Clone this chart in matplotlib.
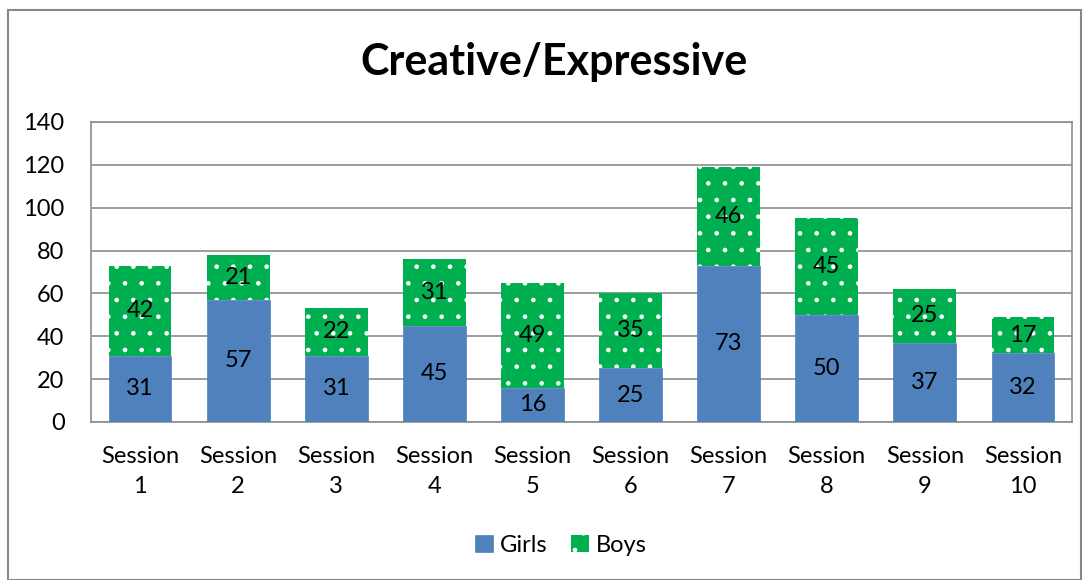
import matplotlib.pyplot as plt
import numpy as np
from matplotlib.patches import Rectangle

plt.rcParams['font.family'] = ['Lato', 'DejaVu Sans']
plt.rcParams['hatch.color'] = 'white'
plt.rcParams['hatch.linewidth'] = 0.9

sessions = ['Session\n1', 'Session\n2', 'Session\n3', 'Session\n4', 'Session\n5',
            'Session\n6', 'Session\n7', 'Session\n8', 'Session\n9', 'Session\n10']
girls = [31, 57, 31, 45, 16, 25, 73, 50, 37, 32]
boys = [42, 21, 22, 31, 49, 35, 46, 45, 25, 17]

blue = '#4F81BD'
green = '#00B050'

fig = plt.figure(figsize=(10.89, 5.80), dpi=100)
# outer chart border
fig.patches.append(Rectangle((8 / 1089, 0), 1 - 16 / 1089, 1 - 10 / 580,
                             transform=fig.transFigure, fill=False,
                             edgecolor='#888888', linewidth=1.5))
ax = fig.add_axes([91 / 1089, 1 - 422 / 580, (1072 - 91) / 1089, 300 / 580])

x = np.arange(len(sessions))
w = 0.64
b1 = ax.bar(x, girls, w, color=blue, edgecolor=blue, linewidth=0.5, zorder=3, label='Girls')
b2 = ax.bar(x, boys, w, bottom=girls, color=green, edgecolor='white', linewidth=0,
            hatch='.', zorder=3, label='Boys')

for i in range(len(x)):
    ax.text(x[i], girls[i] / 2, str(girls[i]), ha='center', va='center', fontsize=17, zorder=4)
    ax.text(x[i], girls[i] + boys[i] / 2, str(boys[i]), ha='center', va='center', fontsize=17, zorder=4)

ax.set_xlim(-0.5, len(x) - 0.5)
ax.set_ylim(0, 140)
ax.set_yticks(range(0, 141, 20))
ax.set_xticks(x)
ax.set_xticklabels(sessions, fontsize=17, linespacing=1.55)
ax.tick_params(axis='y', labelsize=17, length=0, pad=19)
ax.tick_params(axis='x', length=0, pad=17)
ax.yaxis.grid(True, color='#8c8c8c', linewidth=1.2, zorder=0)
for s in ax.spines.values():
    s.set_color('#8c8c8c')
    s.set_linewidth(1.2)

fig.text(0.509, 1 - 62 / 580, 'Creative/Expressive', ha='center', va='center',
         fontsize=31, fontweight='bold')

fig.legend(handles=[b1, b2], loc='center', bbox_to_anchor=(0.515, 1 - 545 / 580), ncol=2,
           frameon=False, fontsize=17, handlelength=0.75, handleheight=0.75,
           handletextpad=0.3, columnspacing=1.0)

fig.savefig('out.png', dpi=100)
